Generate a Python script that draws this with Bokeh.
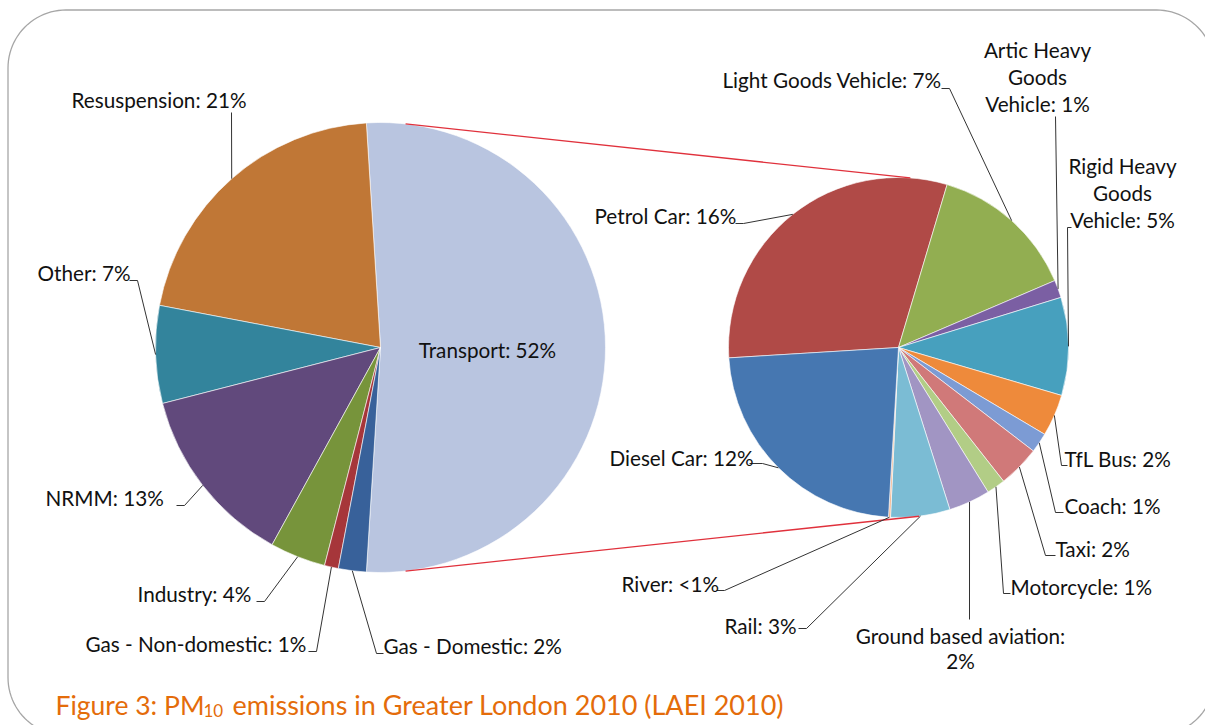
import math
from bokeh.plotting import figure
from bokeh.models import Range1d
from bokeh.embed import file_html
from bokeh.resources import INLINE
from bokeh.core.properties import value

# ---------------- data ----------------
main_names = ["Transport", "Resuspension", "Other", "NRMM", "Industry",
              "Gas - Non-domestic", "Gas - Domestic"]
main_values = [52, 21, 7, 13, 4, 1, 2]
main_pct = ["52%", "21%", "7%", "13%", "4%", "1%", "2%"]
main_colors = ["#B9C5E0", "#C07736", "#33849C", "#61497C", "#77943B",
               "#A6363A", "#38619A"]

sub_names = ["Petrol Car", "Light Goods Vehicle", "Artic Heavy Goods Vehicle",
             "Rigid Heavy Goods Vehicle", "TfL Bus", "Coach", "Taxi",
             "Motorcycle", "Ground based aviation", "Rail", "River", "Diesel Car"]
sub_values = [15.9, 7.25, 0.87, 4.84, 2.07, 0.98, 2.07, 0.92, 2.05, 2.93, 0.1, 12.0]
sub_pct = ["16%", "7%", "1%", "5%", "2%", "1%", "2%", "1%", "2%", "3%", "<1%", "12%"]
sub_colors = ["#B04A47", "#92AE51", "#7B5FA3", "#47A0BE", "#EE8A3B", "#7C9BD4",
              "#D07979", "#B2CD86", "#A195C3", "#7BBCD4", "#F2B38B", "#4677B1"]

title_parts = ["Figure 3: PM", "10", "emissions in Greater London 2010 (LAEI 2010)"]

# ---------------- layout ----------------
W, H = 1205, 725
def Y(iy):
    return H - iy

C1 = (380, 347); R1 = 225
C2 = (898, 347); R2 = 170
SUB_START = 183.5  # degrees, sub pie drawn clockwise from here

FONT = "Lato"
FS = "20.7px"
TXT = "#111111"

p = figure(width=W, height=H, output_backend="svg", toolbar_location=None,
           x_range=Range1d(0, W), y_range=Range1d(0, H),
           min_border=0, outline_line_color=None)
p.axis.visible = False
p.grid.visible = False
p.background_fill_color = "white"
p.border_fill_color = "white"

# rounded frame
def rounded_path(x0, y0, x1, y1, r, n=24):
    xs, ys = [], []
    corners = [(x1 - r, y0 + r, 270, 360), (x1 - r, y1 - r, 0, 90),
               (x0 + r, y1 - r, 90, 180), (x0 + r, y0 + r, 180, 270)]
    for cx, cy, a0, a1 in corners:
        for k in range(n + 1):
            a = math.radians(a0 + (a1 - a0) * k / n)
            xs.append(cx + r * math.cos(a))
            ys.append(cy + r * math.sin(a))
    xs.append(xs[0]); ys.append(ys[0])
    return xs, ys

fx, fy = rounded_path(7.5, 9.5, 1214, 735, 58)
p.line(fx, [Y(v) for v in fy], line_color="#A6A6A6", line_width=1.3)

# main pie: transport centred on the right, others anticlockwise
def main_angles():
    res = []
    a = -main_values[0] * 3.6 / 2
    for v in main_values:
        res.append((a, a + v * 3.6))
        a += v * 3.6
    return res

def sub_angles():
    res = []
    a = SUB_START
    for v in sub_values:
        span = v / sum(sub_values) * 360
        res.append((a - span, a))
        a -= span
    return res

ma = main_angles()
sa = sub_angles()

p.wedge(x=[C1[0]] * len(ma), y=[Y(C1[1])] * len(ma), radius=R1,
        start_angle=[math.radians(s) for s, e in ma],
        end_angle=[math.radians(e) for s, e in ma],
        fill_color=main_colors, line_color="white", line_width=0.6)
p.wedge(x=[C2[0]] * len(sa), y=[Y(C2[1])] * len(sa), radius=R2,
        start_angle=[math.radians(s) for s, e in sa],
        end_angle=[math.radians(e) for s, e in sa],
        fill_color=sub_colors, line_color="white", line_width=0.6)

def edge_pt(c, r, ang):
    a = math.radians(ang)
    return (c[0] + r * math.cos(a), c[1] - r * math.sin(a))

# connector lines (red)
for a1, a2 in [(83.6, 86.0), (-83.6, -83.0)]:
    p1 = edge_pt(C1, R1, a1); p2 = edge_pt(C2, R2, a2)
    p.line([p1[0], p2[0]], [Y(p1[1]), Y(p2[1])], line_color="#E0313C", line_width=1.3)

# label layout: name -> (x, y(list), align, leader path after slice point)
main_layout = {
    "Resuspension": (71, [99], "left", [(231, 112)]),
    "Other": (37, [272], "left", [(137, 280), (129, 280)]),
    "NRMM": (45, [497], "left", [(184, 505), (176, 505)]),
    "Industry": (137, [593], "left", [(264, 601), (256, 601)]),
    "Gas - Non-domestic": (85, [643], "left", [(316, 651), (308, 651)]),
    "Gas - Domestic": (383, [645], "left", [(376, 653), (383, 653)]),
}
sub_layout = {
    "Petrol Car": (594, [215], "left", [(743, 223), (735, 223)]),
    "Light Goods Vehicle": (722, [79], "left", [(949, 88), (941, 88)]),
    "Artic Heavy Goods Vehicle": (1037, [49, 76, 103], "center", [(1055, 116)]),
    "Rigid Heavy Goods Vehicle": (1122, [165, 192, 219], "center", [(1067, 227), (1071, 227)]),
    "TfL Bus": (1064, [458], "left", [(1061, 465), (1067, 465)]),
    "Coach": (1064, [505], "left", [(1055, 512), (1063, 512)]),
    "Taxi": (1055, [548], "left", [(1045, 555), (1055, 555)]),
    "Motorcycle": (1010, [586], "left", [(1003, 593), (1010, 593)]),
    "Ground based aviation": (960, [635, 660], "center", [(969, 619)]),
    "Rail": (724, [625], "left", [(806, 628), (798, 628)]),
    "River": (621, [583], "left", [(724, 590), (716, 590)]),
    "Diesel Car": (609, [457], "left", [(762, 463), (749, 463)]),
}
line_splits = {
    "Artic Heavy Goods Vehicle": ["Artic Heavy", "Goods", "Vehicle: {}"],
    "Rigid Heavy Goods Vehicle": ["Rigid Heavy", "Goods", "Vehicle: {}"],
    "Ground based aviation": ["Ground based aviation:", "{}"],
}

tx, ty, tt, talign = [], [], [], []
lxs, lys = [], []

def add_labels(names, pcts, angles, layout, c, r):
    for name, pct, (s, e) in zip(names, pcts, angles):
        if name not in layout:
            continue
        x, ys, align, path = layout[name]
        lines = line_splits.get(name, ["{}: {}"])
        for ln, yy in zip(lines, ys):
            if ln == "{}: {}":
                t = f"{name}: {pct}"
            else:
                t = ln.format(pct)
            tx.append(x); ty.append(Y(yy)); tt.append(t); talign.append(align)
        sp = edge_pt(c, r, (s + e) / 2)
        pts = [sp] + path
        lxs.append([q[0] for q in pts]); lys.append([Y(q[1]) for q in pts])

add_labels(main_names, main_pct, ma, main_layout, C1, R1)
add_labels(sub_names, sub_pct, sa, sub_layout, C2, R2)

p.multi_line(lxs, lys, line_color="#333333", line_width=1.0)

for al in ["left", "center"]:
    idx = [i for i, a in enumerate(talign) if a == al]
    p.text(x=[tx[i] for i in idx], y=[ty[i] for i in idx], text=[tt[i] for i in idx],
           text_font=value(FONT), text_font_size=value(FS), text_color=TXT,
           text_align=al, text_baseline="middle")

# transport label inside
p.text(x=[487], y=[Y(349)], text=[f"{main_names[0]}: {main_pct[0]}"],
       text_font=value(FONT), text_font_size=value(FS), text_color=TXT,
       text_align="center", text_baseline="middle")

# title
TC = "#E46C0A"
p.text(x=[55], y=[Y(704)], text=[title_parts[0]], text_font=value(FONT),
       text_font_size=value("26.5px"), text_color=TC, text_baseline="middle")
p.text(x=[203], y=[Y(710)], text=[title_parts[1]], text_font=value(FONT),
       text_font_size=value("17px"), text_color=TC, text_baseline="middle")
p.text(x=[232], y=[Y(704)], text=[title_parts[2]], text_font=value(FONT),
       text_font_size=value("27px"), text_color=TC, text_baseline="middle")

open("out.html", "w").write(file_html(p, INLINE))
